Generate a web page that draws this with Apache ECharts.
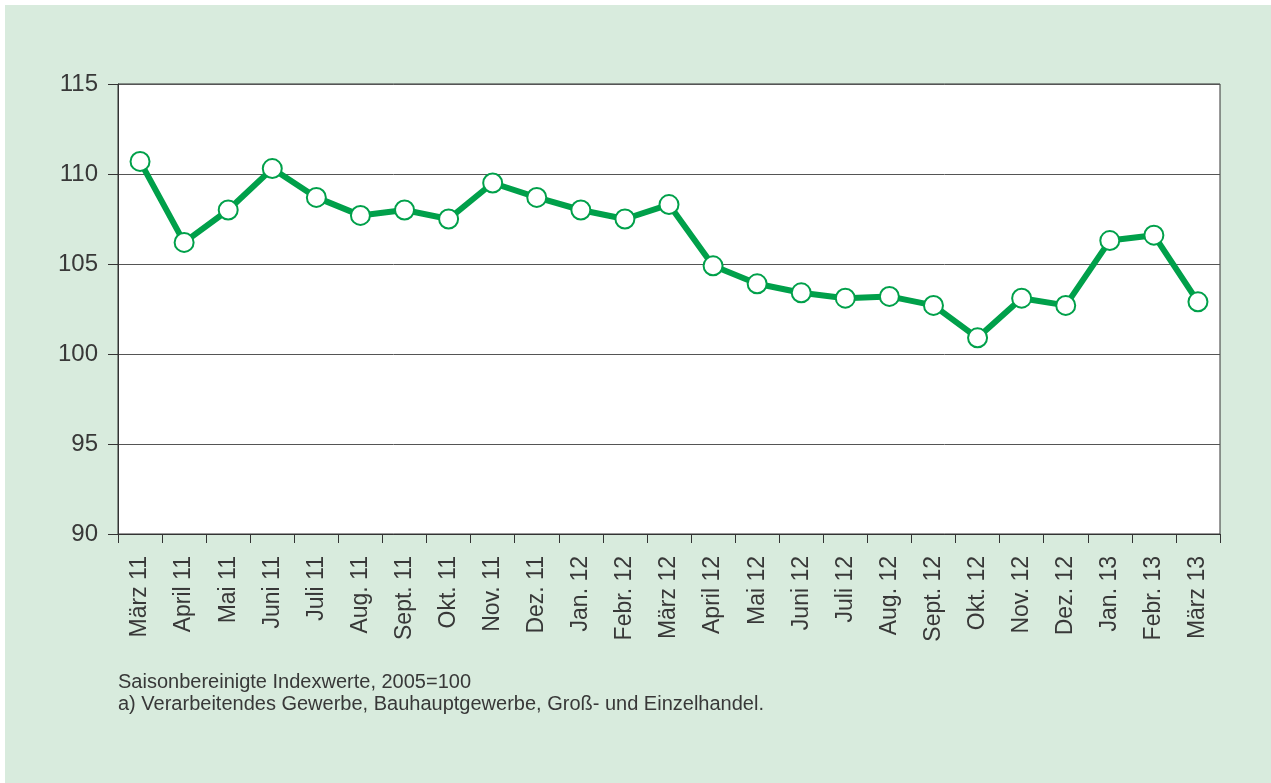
<!DOCTYPE html>
<html>
<head>
<meta charset="utf-8">
<script src="https://cdn.jsdelivr.net/npm/echarts@6/dist/echarts.min.js"></script>
<style>
  body { margin: 0; background: #ffffff; }
  #chart { position: absolute; left: 5px; top: 5px; width: 1266px; height: 778px; }
</style>
</head>
<body>
<div id="chart"></div>
<script>
// Monate
var months = ['März 11', 'April 11', 'Mai 11', 'Juni 11', 'Juli 11', 'Aug. 11', 'Sept. 11', 'Okt. 11',
  'Nov. 11', 'Dez. 11', 'Jan. 12', 'Febr. 12', 'März 12', 'April 12', 'Mai 12', 'Juni 12', 'Juli 12',
  'Aug. 12', 'Sept. 12', 'Okt. 12', 'Nov. 12', 'Dez. 12', 'Jan. 13', 'Febr. 13', 'März 13'];

// Saisonbereinigte Indexwerte
var indexValues = [110.7, 106.2, 108.0, 110.3, 108.7, 107.7, 108.0, 107.5, 109.5, 108.7, 108.0, 107.5,
  108.3, 104.9, 103.9, 103.4, 103.1, 103.2, 102.7, 100.9, 103.1, 102.7, 106.3, 106.6, 102.9];

var yMin = 90;
var yMax = 115;
var yStep = 5;

var notes = ['Saisonbereinigte Indexwerte, 2005=100',
  'a) Verarbeitendes Gewerbe, Bauhauptgewerbe, Groß- und Einzelhandel.'];

var green = '#00a04a';
var font = '"Liberation Sans", Arial, sans-serif';

var myChart = echarts.init(document.getElementById('chart'));
var option = {
  backgroundColor: '#d8ebdd',
  animation: false,
  grid: {
    left: 113, top: 79, width: 1102, height: 450,
    show: true, backgroundColor: '#ffffff', borderColor: '#333333', borderWidth: 1
  },
  xAxis: {
    type: 'category',
    data: months,
    boundaryGap: true,
    axisLine: { lineStyle: { color: '#333333', width: 1 } },
    axisTick: { show: true, length: 9, lineStyle: { color: '#333333' } },
    axisLabel: { rotate: 90, margin: 22, fontSize: 23, color: '#383838', fontFamily: font, interval: 0 }
  },
  yAxis: {
    type: 'value',
    min: yMin, max: yMax, interval: yStep,
    axisLine: { show: true, lineStyle: { color: '#333333', width: 1 } },
    axisTick: { show: true, length: 10, lineStyle: { color: '#333333' } },
    axisLabel: { margin: 20, fontSize: 24, color: '#383838', fontFamily: font },
    splitLine: { show: true, lineStyle: { color: '#555555', width: 1 } }
  },
  series: [{
    type: 'line',
    data: indexValues,
    symbol: 'circle',
    symbolSize: 19,
    lineStyle: { color: green, width: 6 },
    itemStyle: { color: '#ffffff', borderColor: green, borderWidth: 2 },
    z: 5
  }],
  graphic: [
    { type: 'text', left: 113, top: 667, style: { text: notes[0], fontSize: 20, fill: '#383838', fontFamily: font } },
    { type: 'text', left: 113, top: 689, style: { text: notes[1], fontSize: 20, fill: '#383838', fontFamily: font } }
  ]
};
myChart.setOption(option);
</script>
</body>
</html>
